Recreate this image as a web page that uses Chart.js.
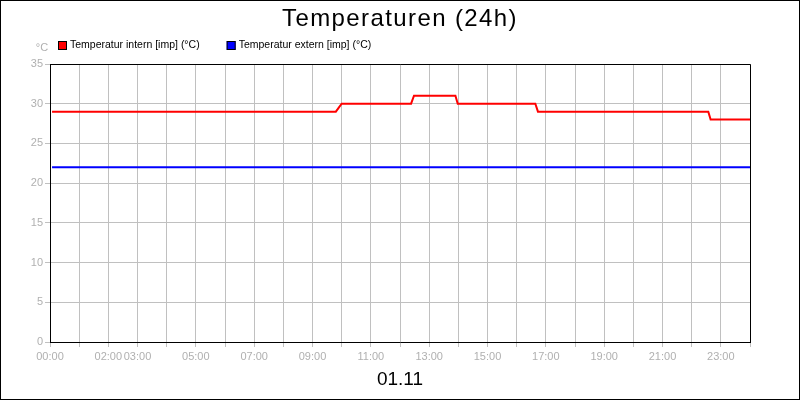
<!DOCTYPE html>
<html>
<head>
<meta charset="utf-8">
<script src="https://cdn.jsdelivr.net/npm/chart.js@4"></script>
<style>
  html, body { margin: 0; padding: 0; background: #fff; }
  #wrap { width: 800px; height: 400px; }
</style>
</head>
<body>
<div id="wrap"><canvas id="chart"></canvas></div>
<script>
// Zeit in Stunden (dezimal), Werte in °C
const internHours = [0.07, 9.8, 10.0, 12.38, 12.48, 13.9, 13.98, 16.64, 16.73, 22.57, 22.65, 24];
const internTemps = [29, 29, 30, 30, 31, 31, 30, 30, 29, 29, 28, 28];
const externHours = [0.07, 24];
const externTemps = [22, 22];

const tickLabels = ["00:00", "02:00", "03:00", "05:00", "07:00", "09:00", "11:00",
  "13:00", "15:00", "17:00", "19:00", "21:00", "23:00"];
const yTicks = [0, 5, 10, 15, 20, 25, 30, 35];

const TITLE = "Temperaturen (24h)";
const FONT = '"Liberation Sans", Arial, sans-serif';
const GREY = "#b0b0b0";

const toPoints = (xs, ys) => xs.map((x, i) => ({ x: x, y: ys[i] }));

// Titel, Rahmen, Legende und Einheit
const frame = {
  id: "frame",
  afterDraw(chart) {
    const ctx = chart.ctx;
    const a = chart.chartArea;
    ctx.save();
    ctx.strokeStyle = "#000";
    ctx.lineWidth = 1;
    ctx.strokeRect(0.5, 0.5, chart.width - 1, chart.height - 1);
    ctx.beginPath();
    ctx.moveTo(a.left, a.top + 0.5);
    ctx.lineTo(a.right + 0.5, a.top + 0.5);
    ctx.lineTo(a.right + 0.5, a.bottom);
    ctx.stroke();

    // Titel
    ctx.fillStyle = "#000";
    ctx.font = "24px " + FONT;
    ctx.textBaseline = "alphabetic";
    ctx.textAlign = "left";
    if ("letterSpacing" in ctx) ctx.letterSpacing = "1.4px";
    const tw = ctx.measureText(TITLE).width;
    ctx.fillText(TITLE, 400 - tw / 2, 25.5);
    if ("letterSpacing" in ctx) ctx.letterSpacing = "0px";

    // Legende
    ctx.font = "10.5px " + FONT;
    ctx.textBaseline = "middle";
    let x = 58;
    chart.data.datasets.forEach(ds => {
      ctx.fillStyle = ds.borderColor;
      ctx.fillRect(x, 41, 9, 9);
      ctx.strokeStyle = "#000";
      ctx.strokeRect(x + 0.5, 41.5, 8, 8);
      ctx.fillStyle = "#000";
      ctx.textAlign = "left";
      ctx.fillText(ds.label, x + 12, 45);
      x += 12 + ctx.measureText(ds.label).width + 27;
    });

    ctx.font = "11px " + FONT;
    ctx.fillStyle = GREY;
    ctx.textAlign = "center";
    ctx.fillText("°C", 42, 48);
    ctx.restore();
  }
};

new Chart(document.getElementById("chart"), {
  type: "line",
  data: {
    datasets: [{
      label: "Temperatur intern [imp] (°C)",
      data: toPoints(internHours, internTemps),
      borderColor: "#ff0000",
      backgroundColor: "#ff0000"
    }, {
      label: "Temperatur extern [imp] (°C)",
      data: toPoints(externHours, externTemps),
      borderColor: "#0000ff",
      backgroundColor: "#0000ff"
    }]
  },
  options: {
    responsive: true,
    maintainAspectRatio: false,
    animation: false,
    layout: { padding: { left: 0, right: 50, top: 64, bottom: 0 } },
    elements: {
      line: { borderWidth: 2, tension: 0 },
      point: { radius: 0 }
    },
    plugins: {
      legend: { display: false },
      tooltip: { enabled: false },
      title: { display: false }
    },
    scales: {
      x: {
        type: "linear",
        min: 0,
        max: 24,
        afterFit: s => { s.height = 58; },
        ticks: {
          stepSize: 1,
          autoSkip: false,
          maxRotation: 0,
          color: GREY,
          padding: 3,
          font: { family: FONT, size: 11 },
          callback: v => {
            const s = String(v).padStart(2, "0") + ":00";
            return tickLabels.includes(s) ? s : "";
          }
        },
        grid: { color: "#c0c0c0", tickLength: 5 },
        border: { color: "#000", width: 1 },
        title: {
          display: true,
          text: "01.11",
          color: "#000",
          font: { family: FONT, size: 19 },
          padding: { top: 0, bottom: 9 }
        }
      },
      y: {
        min: 0,
        max: 35,
        afterFit: s => { s.width = 50; },
        afterBuildTicks: s => { s.ticks = yTicks.map(v => ({ value: v })); },
        ticks: {
          color: GREY,
          padding: 2,
          font: { family: FONT, size: 11 }
        },
        grid: { color: "#c0c0c0", tickLength: 5 },
        border: { color: "#000", width: 1 }
      }
    }
  },
  plugins: [frame]
});
</script>
</body>
</html>
